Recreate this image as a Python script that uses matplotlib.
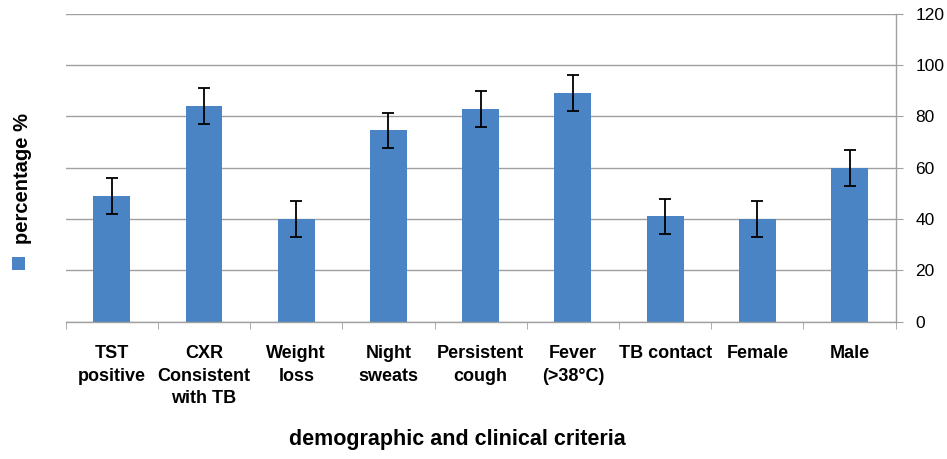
import numpy as np
import matplotlib.pyplot as plt
from matplotlib.patches import Rectangle

categories = ['TST\npositive', 'CXR\nConsistent\nwith TB', 'Weight\nloss', 'Night\nsweats',
              'Persistent\ncough', 'Fever\n(>38°C)', 'TB contact', 'Female', 'Male']
values = [49, 84, 40, 74.5, 83, 89, 41, 40, 60]
errors = [7, 7, 7, 7, 7, 7, 7, 7, 7]

bar_color = '#4a84c4'
grid_color = '#a0a0a0'
font = ['Liberation Sans', 'DejaVu Sans']

fig = plt.figure(figsize=(9.47, 4.59), dpi=100)
ax = fig.add_axes([65.7/947, 1-321.7/459, 830/947, 308/459])

x = np.arange(len(categories))
ax.bar(x, values, width=0.4, color=bar_color, zorder=2)
ax.errorbar(x, values, yerr=errors, fmt='none', ecolor='black',
            elinewidth=1.3, capsize=4.5, capthick=1.3, zorder=3)

ax.set_xlim(-0.5, len(categories) - 0.5)
ax.set_ylim(0, 120)
ax.set_yticks(range(0, 121, 20))
ax.yaxis.tick_right()
ax.grid(axis='y', color=grid_color, linewidth=1, zorder=0)
ax.set_axisbelow(True)

for s in ['top', 'left']:
    ax.spines[s].set_visible(False)
for s in ['right', 'bottom']:
    ax.spines[s].set_color(grid_color)
    ax.spines[s].set_linewidth(1)

ax.tick_params(axis='y', direction='out', length=5, color=grid_color, pad=9,
               labelsize=12.5)
for lab in ax.get_yticklabels():
    lab.set_family(font)

ax.set_xticks(x)
ax.set_xticklabels(categories, fontsize=13, fontweight='bold', family=font,
                   linespacing=1.4, va='top')
ax.set_xticks(np.arange(-0.5, len(categories), 1), minor=True)
ax.tick_params(axis='x', which='major', length=0, pad=17)
ax.tick_params(axis='x', which='minor', direction='out', length=5, color=grid_color)

fig.text(457/947, 1-440/459, 'demographic and clinical criteria', ha='center', va='center',
         fontsize=15.5, fontweight='bold', family=font)

fig.text(23/947, 1-178/459, 'percentage %', rotation=90, ha='center', va='center',
         fontsize=14.5, fontweight='bold', family=font)
fig.patches.append(Rectangle((12/947, 1-270/459), 13/947, 13/459, transform=fig.transFigure,
                             facecolor=bar_color, edgecolor='none', figure=fig))

fig.savefig('out.png', dpi=100)
